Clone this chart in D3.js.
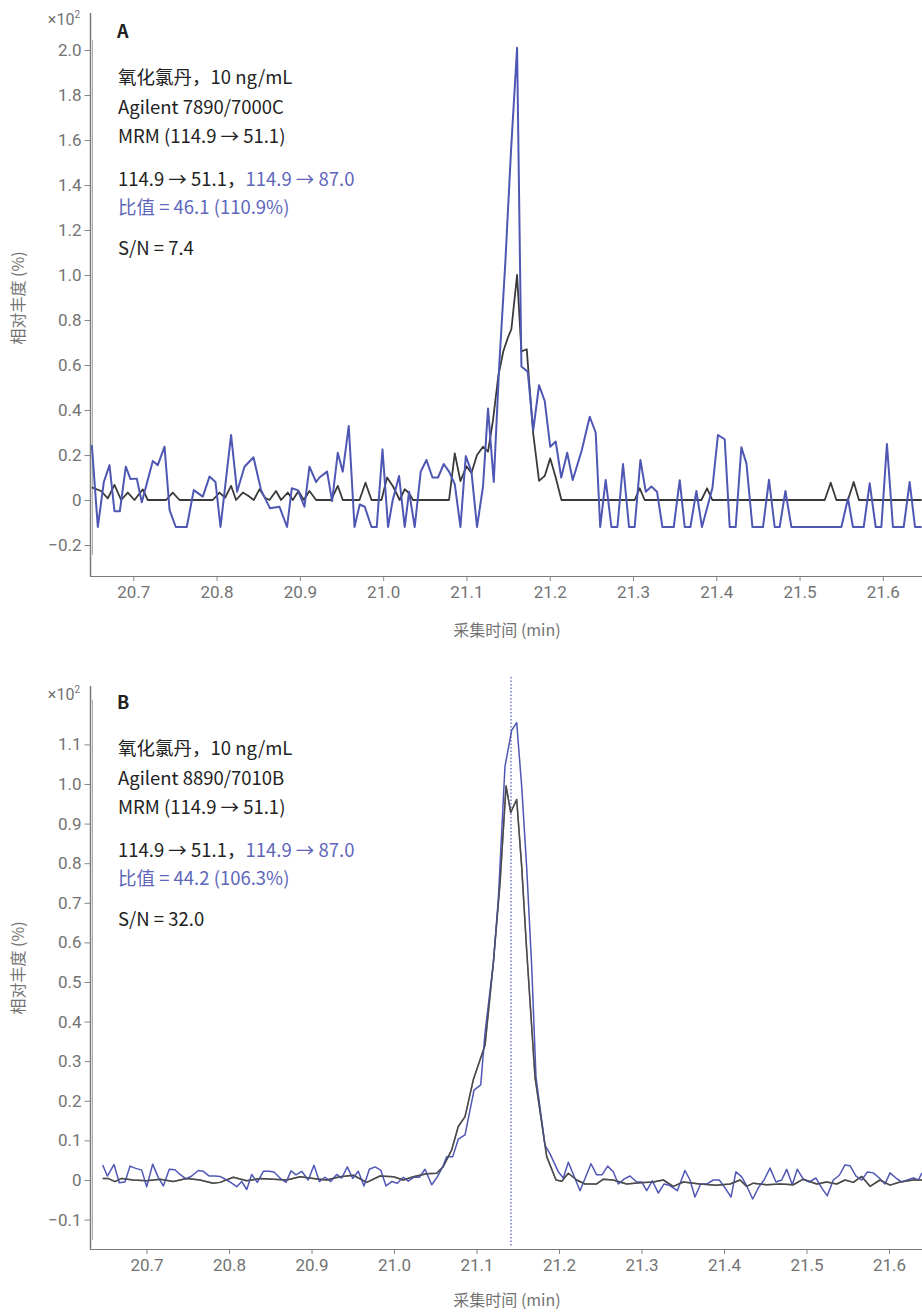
<!DOCTYPE html>
<html>
<head>
<meta charset="utf-8">
<script src="https://cdn.jsdelivr.net/npm/d3@7"></script>
<style>
  body { margin: 0; background: #fff; }
  text { font-family: "Noto Sans CJK SC", "Noto Sans", sans-serif; }
</style>
</head>
<body>
<script>
// panel A: 114.9 -> 51.1 (black) and 114.9 -> 87.0 (blue), x10^2 %
const timeA_51 = [20.6502, 20.6613, 20.6694, 20.6774, 20.6854, 20.6934, 20.7014, 20.7114, 20.7174, 20.7394, 20.7474, 20.7555, 20.7954, 20.8035, 20.8102, 20.8174, 20.8234, 20.8315, 20.8375, 20.8447, 20.8515, 20.8582, 20.8635, 20.8714, 20.8774, 20.8855, 20.8915, 20.8983, 20.9047, 20.9115, 20.9195, 20.9375, 20.9455, 20.9515, 20.9716, 20.9788, 20.986, 20.998, 21.0047, 21.0119, 21.0199, 21.0259, 21.0311, 21.0359, 21.0791, 21.086, 21.0928, 21.1, 21.106, 21.1127, 21.1199, 21.1259, 21.1319, 21.1382, 21.1442, 21.1496, 21.154, 21.1608, 21.166, 21.1724, 21.18, 21.1872, 21.194, 21.2006, 21.2072, 21.2141, 21.302, 21.3081, 21.314, 21.3821, 21.3889, 21.3953, 21.5302, 21.5374, 21.5442, 21.5581, 21.565, 21.5713, 21.6466];
const abundA_51 = [0.056, 0.04, 0.007, 0.067, 0, 0.033, 0, 0.047, 0, 0, 0.033, 0, 0, 0.033, 0.01, 0.063, 0, 0.033, 0.02, 0, 0.048, 0.01, 0, 0.04, 0, 0.033, 0, 0.04, 0, 0.04, 0, 0, 0.063, 0, 0, 0.077, 0, 0, 0.1, 0.06, 0, 0.048, 0.03, 0, 0, 0.207, 0.084, 0.15, 0.12, 0.2, 0.237, 0.215, 0.355, 0.55, 0.66, 0.72, 0.76, 1.0, 0.66, 0.67, 0.3, 0.085, 0.107, 0.185, 0.1, 0, 0, 0.052, 0, 0, 0.052, 0, 0, 0.077, 0, 0, 0.08, 0, 0];

const timeA_87 = [20.6502, 20.6574, 20.6646, 20.6714, 20.6774, 20.6838, 20.691, 20.6966, 20.7042, 20.7102, 20.7234, 20.7294, 20.7375, 20.7435, 20.751, 20.7642, 20.7726, 20.7834, 20.7915, 20.7987, 20.8047, 20.8174, 20.8246, 20.8335, 20.8443, 20.8534, 20.8642, 20.8755, 20.8846, 20.8903, 20.8975, 20.9055, 20.9115, 20.9195, 20.9235, 20.9327, 20.9387, 20.9455, 20.9515, 20.9587, 20.9656, 20.9719, 20.9779, 20.986, 20.9923, 20.9992, 21.0059, 21.0115, 21.0191, 21.0259, 21.0311, 21.0379, 21.0451, 21.052, 21.0592, 21.0659, 21.0728, 21.0791, 21.086, 21.0928, 21.0992, 21.106, 21.1127, 21.1199, 21.1259, 21.1328, 21.1394, 21.1466, 21.1535, 21.1608, 21.166, 21.1736, 21.1802, 21.1872, 21.194, 21.2006, 21.2072, 21.2138, 21.221, 21.2276, 21.2384, 21.248, 21.2552, 21.2606, 21.2672, 21.2741, 21.2813, 21.288, 21.2952, 21.302, 21.3089, 21.3153, 21.3221, 21.3288, 21.3353, 21.3489, 21.3561, 21.3621, 21.3689, 21.3761, 21.3828, 21.3953, 21.402, 21.4101, 21.4161, 21.4233, 21.4301, 21.4362, 21.4434, 21.4561, 21.4633, 21.4701, 21.4761, 21.483, 21.4902, 21.5502, 21.5581, 21.5641, 21.577, 21.5842, 21.5914, 21.5982, 21.6049, 21.6121, 21.625, 21.6322, 21.6386, 21.6466];
const abundA_87 = [0.244, -0.12, 0.08, 0.155, -0.05, -0.05, 0.148, 0.093, 0.095, -0.01, 0.173, 0.155, 0.237, -0.044, -0.12, -0.12, 0.044, 0.015, 0.104, 0.08, -0.12, 0.289, 0.037, 0.148, 0.19, 0.044, -0.037, -0.03, -0.12, 0.052, 0.044, -0.03, 0.148, 0.08, 0.1, 0.126, -0.005, 0.21, 0.126, 0.329, -0.12, -0.02, -0.03, -0.12, -0.12, 0.225, -0.12, 0, 0.107, -0.12, 0.037, -0.12, 0.126, 0.178, 0.1, 0.1, 0.16, 0.126, 0.07, -0.12, 0.195, 0.126, -0.12, 0.06, 0.407, 0.08, 0.6, 1.05, 1.55, 2.01, 0.593, 0.57, 0.31, 0.51, 0.44, 0.237, 0.26, 0.1, 0.21, 0.089, 0.22, 0.37, 0.3, -0.12, 0.089, -0.12, -0.12, 0.16, -0.12, -0.12, 0.178, 0.037, 0.06, 0.037, -0.12, -0.12, 0.088, -0.12, -0.12, 0.04, -0.12, 0.052, 0.289, 0.27, -0.12, -0.12, 0.234, 0.163, -0.12, -0.12, 0.09, -0.12, -0.12, 0.04, -0.12, -0.12, 0.007, -0.12, -0.12, 0.074, -0.12, -0.12, 0.249, -0.12, -0.12, 0.08, -0.12, -0.12];

// panel B
const timeB_51 = [20.6469, 20.6533, 20.6618, 20.6699, 20.684, 20.7002, 20.7164, 20.7325, 20.7487, 20.7648, 20.7806, 20.7891, 20.8052, 20.8215, 20.8376, 20.8537, 20.8699, 20.8861, 20.9022, 20.9184, 20.9345, 20.9507, 20.9669, 20.983, 20.9992, 21.0113, 21.0234, 21.0396, 21.0518, 21.0598, 21.0699, 21.0779, 21.0861, 21.0961, 21.1103, 21.1204, 21.1285, 21.1358, 21.1415, 21.1487, 21.1548, 21.1608, 21.1709, 21.1851, 21.1964, 21.2033, 21.2113, 21.2215, 21.2315, 21.2457, 21.2537, 21.2655, 21.282, 21.2982, 21.3139, 21.3264, 21.3385, 21.3507, 21.3709, 21.3912, 21.4073, 21.4194, 21.4275, 21.4355, 21.4517, 21.4679, 21.484, 21.4961, 21.5124, 21.5245, 21.5366, 21.5467, 21.5567, 21.5669, 21.577, 21.5891, 21.6012, 21.6133, 21.6295, 21.64];
const abundB_51 = [0.004, 0.004, -0.004, 0.004, 0, -0.002, 0.002, -0.004, 0.004, 0, -0.008, -0.006, 0.007, -0.002, 0.004, 0.002, 0, 0.008, 0.004, 0, 0.008, 0.012, -0.006, 0.01, 0.008, 0, 0.008, 0.016, 0.017, 0.034, 0.076, 0.135, 0.16, 0.253, 0.34, 0.548, 0.75, 0.995, 0.928, 0.961, 0.79, 0.58, 0.26, 0.059, 0, -0.003, 0.017, 0, -0.01, -0.01, 0.002, 0, -0.01, -0.007, -0.005, 0, -0.016, -0.005, -0.01, -0.013, -0.01, 0, -0.016, -0.008, -0.012, -0.01, -0.012, 0.002, -0.01, -0.005, -0.01, 0, -0.006, 0.009, -0.016, 0, -0.013, -0.005, 0, 0];

const timeB_87 = [20.6469, 20.6525, 20.6606, 20.667, 20.6739, 20.68, 20.6861, 20.6942, 20.7002, 20.7075, 20.7143, 20.7204, 20.7276, 20.7345, 20.7406, 20.7479, 20.7548, 20.7628, 20.7688, 20.7761, 20.783, 20.7891, 20.7972, 20.8033, 20.8093, 20.8154, 20.8215, 20.8275, 20.8343, 20.8416, 20.8488, 20.8545, 20.8618, 20.8691, 20.8752, 20.8812, 20.8881, 20.8961, 20.903, 20.9095, 20.9164, 20.9233, 20.9305, 20.9366, 20.9434, 20.9499, 20.9567, 20.9636, 20.9701, 20.977, 20.9839, 20.9903, 20.9972, 21.004, 21.0113, 21.0173, 21.0242, 21.0307, 21.0376, 21.0457, 21.0525, 21.059, 21.0639, 21.0712, 21.0779, 21.0861, 21.097, 21.1051, 21.1103, 21.1204, 21.1264, 21.1345, 21.1427, 21.1487, 21.1548, 21.1608, 21.1669, 21.1721, 21.183, 21.1891, 21.1991, 21.2052, 21.2113, 21.2255, 21.2388, 21.2457, 21.2521, 21.259, 21.2658, 21.2719, 21.2792, 21.2861, 21.2942, 21.3002, 21.3063, 21.3131, 21.3204, 21.3273, 21.3345, 21.3434, 21.3527, 21.3588, 21.3648, 21.3717, 21.3794, 21.387, 21.3943, 21.4012, 21.4085, 21.4145, 21.4214, 21.4275, 21.4348, 21.4416, 21.4485, 21.4558, 21.463, 21.4699, 21.476, 21.4828, 21.4888, 21.4961, 21.5034, 21.5115, 21.5184, 21.5252, 21.5325, 21.5398, 21.5467, 21.5527, 21.56, 21.5669, 21.5737, 21.581, 21.5882, 21.5952, 21.6012, 21.6085, 21.6154, 21.6222, 21.6295, 21.6355, 21.64];
const abundB_87 = [0.038, 0.01, 0.039, -0.007, -0.005, 0.035, 0.03, 0.025, -0.017, 0.04, 0.006, -0.015, 0.027, 0.026, 0.014, 0.003, 0.01, 0.024, 0.022, 0.01, 0.01, 0.009, 0, -0.008, -0.017, -0.004, -0.024, 0.014, -0.006, 0.022, 0.022, 0.02, 0.005, -0.006, 0.023, 0.013, 0.022, 0, 0.037, -0.004, 0.007, -0.004, 0.014, 0.005, 0.033, 0.004, 0.022, -0.015, 0.027, 0.033, 0.025, -0.015, -0.004, -0.008, 0.007, -0.003, 0.007, 0.007, 0.027, -0.012, 0.008, 0.033, 0.059, 0.059, 0.103, 0.114, 0.227, 0.24, 0.371, 0.548, 0.707, 1.044, 1.136, 1.155, 0.993, 0.79, 0.539, 0.26, 0.088, 0.066, 0.021, 0.005, 0.045, -0.027, 0.041, 0.013, 0.013, 0.035, 0.021, -0.01, 0.003, 0.01, -0.005, -0.005, -0.027, -0.002, -0.033, -0.01, -0.014, -0.027, 0.024, 0, -0.043, -0.01, -0.01, 0, 0, -0.02, -0.043, 0.021, 0.008, -0.015, -0.048, -0.02, 0, 0.03, -0.005, 0, 0.027, -0.012, 0.027, 0.002, -0.005, 0.005, -0.02, -0.04, 0, 0.012, 0.038, 0.036, 0.01, 0, 0.02, 0.018, 0.005, -0.01, 0.018, 0.005, -0.005, 0, 0.005, 0, 0.018];
const rtB = 21.1418;

const xTicks = [20.7, 20.8, 20.9, 21.0, 21.1, 21.2, 21.3, 21.4, 21.5, 21.6];
const yTicksA = [-0.2, 0, 0.2, 0.4, 0.6, 0.8, 1.0, 1.2, 1.4, 1.6, 1.8, 2.0];
const yTicksB = [-0.1, 0, 0.1, 0.2, 0.3, 0.4, 0.5, 0.6, 0.7, 0.8, 0.9, 1.0, 1.1];

const notesA = ["氧化氯丹，10 ng/mL", "Agilent 7890/7000C", "MRM (114.9 → 51.1)"];
const notesB = ["氧化氯丹，10 ng/mL", "Agilent 8890/7010B", "MRM (114.9 → 51.1)"];
const ratioA = "比值 = 46.1 (110.9%)", snA = "S/N = 7.4";
const ratioB = "比值 = 44.2 (106.3%)", snB = "S/N = 32.0";

const BLUE = "#4f57b4", BLUE_TXT = "#5e66bb", INK = "#222", GREY = "#737373";

const svg = d3.select("body").append("svg")
    .attr("width", 922).attr("height", 1312);

function panel(cfg) {
    const g = svg.append("g");

    const x = d3.scaleLinear().domain(cfg.xDomain).range([90, 922]);
    const y = d3.scaleLinear().domain(cfg.yDomain).range(cfg.yRange);

    // axes
    g.append("g")
        .attr("transform", "translate(90.5, 0)")
        .call(d3.axisLeft(y).tickValues(cfg.yTicks).tickSize(6).tickPadding(3)
            .tickFormat(d => d === 0 ? "0" : d3.format(".1f")(d)))
        .call(a => a.select(".domain").remove())
        .call(a => a.selectAll("line").attr("stroke", "#888"))
        .call(a => a.selectAll("text").style("font-family", "Roboto, sans-serif")
            .style("font-size", "17px").attr("fill", GREY));

    g.append("g")
        .attr("transform", `translate(0, ${cfg.axisY})`)
        .call(d3.axisBottom(x).tickValues(xTicks).tickSize(5).tickPadding(5).tickFormat(d3.format(".1f")))
        .call(a => a.select(".domain").remove())
        .call(a => a.selectAll("line").attr("stroke", "#888"))
        .call(a => a.selectAll("text").style("font-family", "Roboto, sans-serif")
            .style("font-size", "17px").attr("fill", GREY));

    g.append("line").attr("x1", 90.5).attr("x2", 90.5).attr("y1", cfg.axisTop).attr("y2", cfg.axisY)
        .attr("stroke", "#7a7a7a").attr("stroke-width", 1.5);
    g.append("line").attr("x1", 92.5).attr("x2", 92.5).attr("y1", cfg.innerTop).attr("y2", cfg.innerBottom)
        .attr("stroke", "#b0b0b0").attr("stroke-width", 1);
    g.append("line").attr("x1", 90).attr("x2", 922).attr("y1", cfg.axisY + 0.5).attr("y2", cfg.axisY + 0.5)
        .attr("stroke", "#7a7a7a").attr("stroke-width", 1.2);

    // x10^2
    g.append("text").attr("x", 80).attr("y", cfg.expY).attr("text-anchor", "end")
        .style("font-family", "Roboto, sans-serif").style("font-size", "16px").attr("fill", GREY)
        .text("×10")
        .append("tspan").attr("dy", -7).style("font-size", "10px").text("2");

    // axis titles
    g.append("text").attr("transform", `translate(24, ${cfg.yTitleY}) rotate(-90)`)
        .attr("text-anchor", "middle").style("font-size", "16px").attr("fill", GREY)
        .text("相对丰度 (%)");
    g.append("text").attr("x", 507).attr("y", cfg.axisY + cfg.xTitleDy).attr("text-anchor", "middle")
        .style("font-size", "16px").attr("fill", GREY).text("采集时间 (min)");

    // retention time marker
    if (cfg.rt) {
        g.append("line").attr("x1", x(cfg.rt)).attr("x2", x(cfg.rt))
            .attr("y1", y(1.27)).attr("y2", cfg.axisY - 2)
            .attr("stroke", "#7076cc").attr("stroke-width", 1.5).attr("stroke-dasharray", "1.5,2");
    }

    const line = d3.line().x(d => x(d[0])).y(d => y(d[1]));
    g.append("path").datum(d3.zip(cfg.t51, cfg.v51)).attr("d", line)
        .attr("fill", "none").attr("stroke", cfg.blackColor).attr("stroke-width", cfg.blackW)
        .attr("stroke-linejoin", "round");
    g.append("path").datum(d3.zip(cfg.t87, cfg.v87)).attr("d", line)
        .attr("fill", "none").attr("stroke", BLUE).attr("stroke-width", cfg.blueW)
        .attr("stroke-linejoin", "round");
    if (cfg.blackOnTop) {
        g.append("path").datum(d3.zip(cfg.t51, cfg.v51)).attr("d", line)
            .attr("fill", "none").attr("stroke", cfg.blackColor).attr("stroke-width", cfg.blackW)
            .attr("stroke-opacity", 0.6).attr("stroke-linejoin", "round");
    }

    // annotations
    const tx = 118, fs = "18.5px";
    g.append("text").attr("x", tx - 1).attr("y", cfg.labelY).style("font-size", "18px")
        .style("font-weight", "bold").attr("fill", INK).text(cfg.label);
    cfg.notes.forEach((s, i) => {
        g.append("text").attr("x", tx).attr("y", cfg.noteY + i * 29.5).style("font-size", fs)
            .attr("fill", INK).text(s);
    });
    const r = g.append("text").attr("x", tx).attr("y", cfg.noteY + 102).style("font-size", fs).attr("fill", INK);
    r.append("tspan").text("114.9 → 51.1，");
    r.append("tspan").attr("fill", BLUE_TXT).text("114.9 → 87.0");
    g.append("text").attr("x", tx).attr("y", cfg.noteY + 130).style("font-size", fs)
        .attr("fill", BLUE_TXT).text(cfg.ratio);
    g.append("text").attr("x", tx).attr("y", cfg.noteY + 171).style("font-size", fs)
        .attr("fill", INK).text(cfg.sn);
}

panel({
    label: "A", labelY: 38, noteY: 84, expY: 25,
    xDomain: [20.648, 21.647], yDomain: [-0.2, 2.0], yRange: [545, 50],
    axisY: 576, axisTop: 13, innerTop: 40, innerBottom: 555, yTitleY: 298, xTitleDy: 60,
    yTicks: yTicksA, notes: notesA, ratio: ratioA, sn: snA,
    t51: timeA_51, v51: abundA_51, t87: timeA_87, v87: abundA_87,
    blackColor: "#3a3a3a", blackW: 1.8, blueW: 2
});

panel({
    label: "B", labelY: 709, noteY: 755, expY: 700,
    xDomain: [20.6315, 21.64], yDomain: [-0.1, 1.1], yRange: [1219.6, 744.4],
    axisY: 1249, axisTop: 686, innerTop: 700, innerBottom: 1240, yTitleY: 968, xTitleDy: 57,
    yTicks: yTicksB, notes: notesB, ratio: ratioB, sn: snB, rt: rtB,
    t51: timeB_51, v51: abundB_51, t87: timeB_87, v87: abundB_87,
    blackColor: "#4a4a4a", blackW: 1.5, blueW: 1.5, blackOnTop: true
});
</script>
</body>
</html>
